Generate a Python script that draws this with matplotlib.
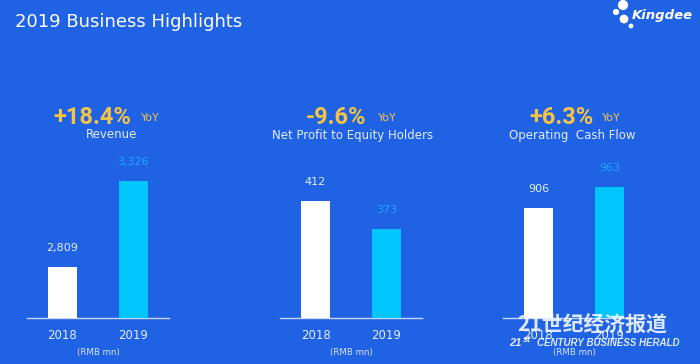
import matplotlib
matplotlib.use("Agg")
import matplotlib.pyplot as plt

plt.rcParams['font.family'] = ['DejaVu Sans']

# ---- data ----
years = ["2018", "2019"]
revenue = [2809, 3326]
net_profit = [412, 373]
op_cash = [906, 963]
value_labels_rev = ["2,809", "3,326"]
value_labels_np = ["412", "373"]
value_labels_oc = ["906", "963"]
growth = ["+18.4%", "-9.6%", "+6.3%"]
metric_names = ["Revenue", "Net Profit to Equity Holders", "Operating  Cash Flow"]
ylims = [(2502, 3404), (249, 458), (607, 1015)]

BG = "#1f62e4"
GOLD = "#f5c445"
CYAN = "#00c6ff"
CYAN_TXT = "#1fa4ff"
SUB = "#e4ecff"
W, H = 700, 364

fig = plt.figure(figsize=(7, 3.64), dpi=100, facecolor=BG)

def fx(x):
    return x / W

def fy(y):
    return 1 - y / H

# title
fig.text(fx(15), fy(22), "2019 Business Highlights", color="white",
         fontsize=13, va="center", ha="left")

# logo
fig.text(fx(693), fy(15), "Kingdee", color="white", fontsize=9.5,
         fontweight="bold", fontstyle="italic", ha="right", va="center")
logo = fig.add_axes([0, 0, 1, 1], facecolor="none")
logo.set_xlim(0, W); logo.set_ylim(H, 0); logo.axis("off")
logo.scatter([623, 624, 616, 631], [5, 19, 12, 26], s=[40, 28, 12, 6],
             color="white", zorder=5)

panel_lefts = [27, 280, 503]
series = [revenue, net_profit, op_cash]
vlabels = [value_labels_rev, value_labels_np, value_labels_oc]
head_right = [131, 366, 594]
yoy_left = [141, 378, 602]
sub_center = [112, 353, 572]

for i in range(3):
    left = panel_lefts[i]
    ax = fig.add_axes([fx(left), fy(318), 142 / W, 150 / H], facecolor="none")
    vals = series[i]
    ax.bar([0, 1], [v - ylims[i][0] for v in vals], bottom=ylims[i][0],
           width=0.41, color=["white", CYAN], zorder=3)
    ax.set_xlim(-0.5, 1.5)
    ax.set_ylim(*ylims[i])
    for s in ["top", "right", "left"]:
        ax.spines[s].set_visible(False)
    ax.spines["bottom"].set_color("#c9d6f2")
    ax.spines["bottom"].set_linewidth(1.0)
    ax.set_yticks([])
    ax.set_xticks([0, 1])
    ax.set_xticklabels(years, color=SUB, fontsize=8.5)
    ax.tick_params(axis="x", length=0, pad=8)
    for j, v in enumerate(vals):
        ax.annotate(vlabels[i][j], (j, v), xytext=(0, 13.5),
                    textcoords="offset points", ha="center", va="center",
                    fontsize=8, color=SUB if j == 0 else CYAN_TXT)
    ax.text(0.5, -0.23, "(RMB mn)", transform=ax.transAxes, ha="center",
            va="center", fontsize=6.2, color="#d8e2f8")
    fig.text(fx(head_right[i]), fy(117), growth[i], color=GOLD, fontsize=17,
             fontweight="bold", ha="right", va="center",
             family=["Roboto", "DejaVu Sans"])
    fig.text(fx(yoy_left[i]), fy(118), "YoY", color=GOLD, fontsize=8,
             ha="left", va="center")
    fig.text(fx(sub_center[i]), fy(135), metric_names[i], color=SUB,
             fontsize=8.5, ha="center", va="center")

# watermark
fig.text(fx(592), fy(324), "21世纪经济报道", color="white", alpha=0.85,
         fontsize=15, fontweight="bold", ha="center", va="center",
         family=["Noto Sans CJK SC", "DejaVu Sans"])
fig.text(fx(522), fy(343), "21", color="white", alpha=0.85, fontsize=8,
         fontweight="bold", fontstyle="italic", ha="right", va="center",
         family=["Liberation Sans", "DejaVu Sans"])
fig.text(fx(523), fy(339), "st", color="white", alpha=0.9, fontsize=6.5,
         fontweight="bold", fontstyle="italic", ha="left", va="center",
         family=["Liberation Sans", "DejaVu Sans"], zorder=10)
fig.text(fx(537), fy(343), "CENTURY BUSINESS HERALD", color="white",
         alpha=0.85, fontsize=7, fontweight="bold", fontstyle="italic",
         ha="left", va="center", family=["Liberation Sans", "DejaVu Sans"])

fig.savefig("out.png", dpi=100, facecolor=BG)
